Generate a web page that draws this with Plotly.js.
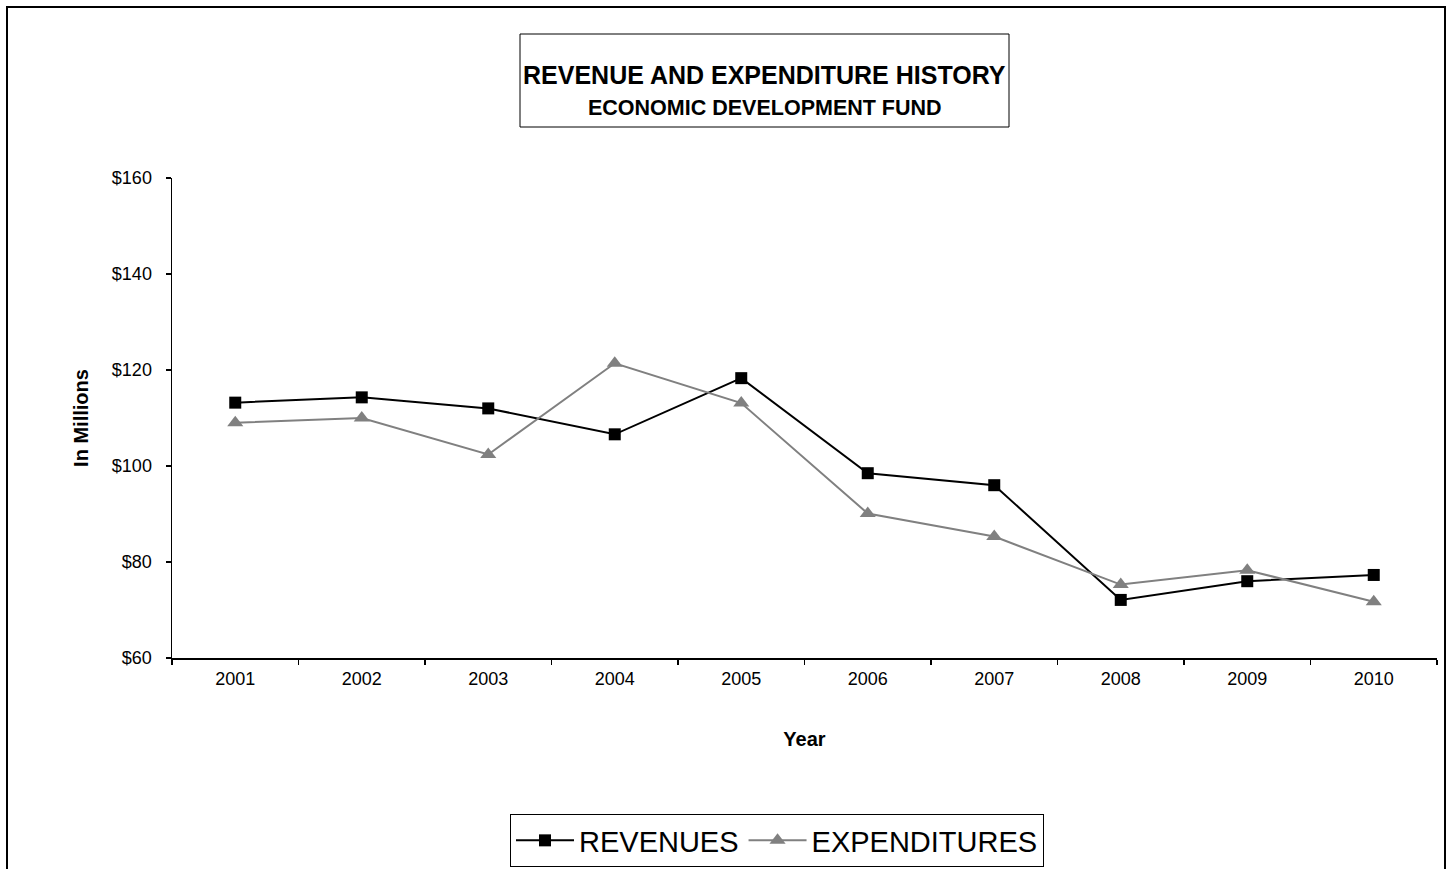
<!DOCTYPE html>
<html>
<head>
<meta charset="utf-8">
<script src="https://cdn.plot.ly/plotly-3.0.1.min.js"></script>
<style>html,body{margin:0;padding:0;background:#fff;}#chart{width:1455px;height:869px;}</style>
</head>
<body>
<div id="chart"></div>
<script>
const years = ['2001','2002','2003','2004','2005','2006','2007','2008','2009','2010'];
const revenues = [113.2, 114.3, 112.0, 106.6, 118.3, 98.5, 96.0, 72.1, 76.0, 77.3];
const expenditures = [109.0, 110.0, 102.4, 121.4, 113.1, 90.1, 85.3, 75.3, 78.3, 71.7];
const titleMain = 'REVENUE AND EXPENDITURE HISTORY';
const titleSub = 'ECONOMIC DEVELOPMENT FUND';

const W = 1455, H = 869;
const m = {l: 172, r: 18, t: 178, b: 211, autoexpand: false};
const pw = W - m.l - m.r, ph = H - m.t - m.b;
const px = x => (x - m.l) / pw;
const py = y => (H - m.b - y) / ph;

const font = 'Liberation Sans, Arial, sans-serif';

const traces = [
  {x: years, y: revenues, name: 'REVENUES', type: 'scatter', mode: 'lines+markers',
   line: {color: '#000000', width: 2},
   marker: {symbol: 'square', size: 12, color: '#000000'}},
  {x: years, y: expenditures, name: 'EXPENDITURES', type: 'scatter', mode: 'lines+markers',
   line: {color: '#808080', width: 2},
   marker: {symbol: 'triangle-up', size: 14, color: '#808080'}}
];

const layout = {
  width: W, height: H,
  margin: m,
  paper_bgcolor: '#ffffff', plot_bgcolor: '#ffffff',
  font: {family: font, color: '#000000', size: 18},
  showlegend: true,
  legend: {orientation: 'h', x: px(777), xanchor: 'center', y: py(867), yanchor: 'bottom',
           bordercolor: '#000000', borderwidth: 1, font: {size: 29, family: font},
           itemwidth: 58, tracegroupgap: 0},
  xaxis: {type: 'category', range: [-0.5, 9.5], tickson: 'boundaries', ticks: 'outside',
          ticklen: 5, tickwidth: 1.5, tickcolor: '#000', showline: true, linecolor: '#000', linewidth: 1.5,
          showgrid: false, zeroline: false, tickfont: {size: 18}, ticklabelstandoff: 4,
          title: {text: '<b>Year</b>', font: {size: 20}, standoff: 44}},
  yaxis: {range: [60, 160], dtick: 20, tickprefix: '$', ticks: 'outside', ticklen: 5,
          tickwidth: 1.5, tickcolor: '#000', showline: true, linecolor: '#000', linewidth: 1.5,
          showgrid: false, zeroline: false, tickfont: {size: 18}, ticklabelstandoff: 10,
          title: {text: '<b>In Millions</b>', font: {size: 20}, standoff: 18}},
  shapes: [
    {type: 'rect', xref: 'paper', yref: 'paper', x0: px(7), x1: px(1445), y0: py(890), y1: py(7),
     line: {color: '#000', width: 2}, fillcolor: 'rgba(0,0,0,0)'},
    {type: 'rect', xref: 'paper', yref: 'paper', x0: px(520), x1: px(1009), y0: py(127), y1: py(34),
     line: {color: '#000', width: 1}, fillcolor: 'rgba(0,0,0,0)'}
  ],
  annotations: [
    {xref: 'paper', yref: 'paper', x: px(764.5), y: py(75), xanchor: 'center', yanchor: 'middle',
     text: '<b>' + titleMain + '</b>', showarrow: false, font: {size: 25, family: font}},
    {xref: 'paper', yref: 'paper', x: px(764.5), y: py(108), xanchor: 'center', yanchor: 'middle',
     text: '<b>' + titleSub + '</b>', showarrow: false, font: {size: 21.5, family: font}}
  ]
};

Plotly.newPlot('chart', traces, layout, {displayModeBar: false, staticPlot: true});
</script>
</body>
</html>
